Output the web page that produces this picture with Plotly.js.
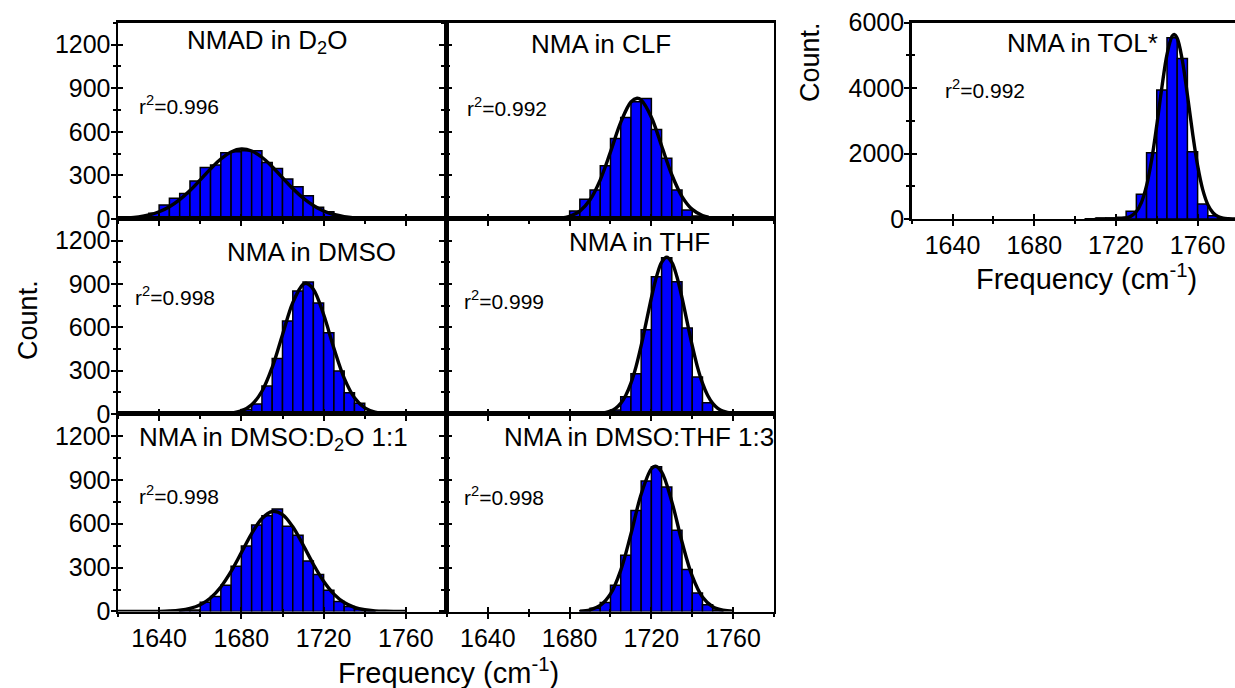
<!DOCTYPE html>
<html>
<head>
<meta charset="utf-8">
<script src="https://cdn.plot.ly/plotly-3.0.1.min.js"></script>
<style>
html,body{margin:0;padding:0;background:#fff;}
#chart{width:1235px;height:688px;}
</style>
</head>
<body>
<div id="chart"></div>
<script>
// ---------- data ----------
const panelTitles = ['NMAD in D<sub>2</sub>O', 'NMA in CLF', 'NMA in DMSO', 'NMA in THF',
                     'NMA in DMSO:D<sub>2</sub>O 1:1', 'NMA in DMSO:THF 1:3', 'NMA in TOL*'];
const r2Values = ['0.996', '0.992', '0.998', '0.999', '0.998', '0.998', '0.992'];

// histogram bins (left edge, cm-1) and counts
const binsNMAD = [1620,1625,1630,1635,1640,1645,1650,1655,1660,1665,1670,1675,1680,1685,1690,1695,1700,1705,1710,1715,1720,1725,1730,1735];
const countsNMAD = [5,10,16,39,96,142,176,261,355,372,456,462,469,469,389,348,275,222,160,80,50,23,10,5];

const binsCLF = [1670,1675,1680,1685,1690,1695,1700,1705,1710,1715,1720,1725,1730,1735,1740,1745];
const countsCLF = [5,16,55,135,199,366,554,698,806,829,616,417,199,62,20,5];

const binsDMSO = [1675,1680,1685,1690,1695,1700,1705,1710,1715,1720,1725,1730,1735,1740,1745];
const countsDMSO = [11,32,69,193,384,644,851,913,768,563,297,147,74,16,5];

const binsTHF = [1695,1700,1705,1710,1715,1720,1725,1730,1735,1740,1745,1750,1755];
const countsTHF = [5,27,119,279,584,950,1081,916,595,256,78,16,5];

const binsMixD2O = [1650,1655,1660,1665,1670,1675,1680,1685,1690,1695,1700,1705,1710,1715,1720,1725,1730,1735,1740];
const countsMixD2O = [5,11,64,103,179,310,448,591,655,701,582,522,345,253,145,69,34,16,5];

const binsMixTHF = [1685,1690,1695,1700,1705,1710,1715,1720,1725,1730,1735,1740,1745,1750];
const countsMixTHF = [5,23,62,179,384,690,892,989,851,556,287,126,46,11];

const binsTOL = [1705,1710,1715,1720,1725,1730,1735,1740,1745,1750,1755,1760,1765,1770];
const countsTOL = [10,20,30,50,234,754,2026,3941,5540,4908,2057,458,100,20];

// fitted curves, points
const fitXNMAD = [1620,1625,1630,1635,1640,1645,1650,1655,1660,1665,1670,1675,1680,1685,1690,1695,1700,1705,1710,1715,1720,1725,1730,1735,1740,1745,1750,1755,1760];
const fitYNMAD = [3.0,6.7,14.1,27.4,49.6,84.0,132.7,195.4,268.8,344.8,412.9,461.3,481,467.7,424.5,359.5,284.1,209.4,144.1,92.5,55.4,31.0,16.1,7.9,3.6,1.5,0.6,0.2,0.1];

const fitXCLF = [1660,1665,1670,1675,1680,1685,1690,1695,1700,1705,1710,1713,1715,1720,1725,1730,1735,1740,1745,1748];
const fitYCLF = [0,0.3,1.4,5.5,18.9,54.6,132.2,269.5,461.6,664.6,804.5,830,818.5,700.2,503.4,304.3,154.5,66.0,23.7,11.8];

const fitXDMSO = [1670,1675,1680,1685,1690,1695,1700,1705,1710,1711.5,1715,1720,1725,1730,1735,1740,1745,1750,1755,1760];
const fitYDMSO = [1.3,5.9,21.3,63.6,157.6,323.4,548.9,771.4,897.3,905,864.1,688.7,454.4,248.2,112.2,42.0,13.0,3.3,0.7,0.1];

const fitXTHF = [1690,1695,1700,1702.5,1705,1707.5,1710,1712.5,1715,1717.5,1720,1722.5,1725,1727.5,1730,1732.5,1735,1737.5,1740,1742.5,1745,1747.5,1750,1752.5,1755,1760,1765];
const fitYTHF = [0.6,4.0,19.5,39.2,73.7,129.5,213.2,328.2,473.0,637.8,804.6,950.0,1049.5,1085,1049.5,950.0,804.6,637.8,473.0,328.2,213.2,129.5,73.7,39.2,19.5,4.0,0.6];

const fitXMixD2O = [1620,1625,1630,1635,1640,1645,1650,1655,1660,1665,1670,1675,1680,1685,1690,1695,1700,1705,1710,1715,1720,1725,1730,1735,1740,1745,1750,1755,1760];
const fitYMixD2O = [0,0,0.1,0.3,1.0,3.1,8.4,20.7,46.2,92.7,167.8,273.6,402.1,532.5,635.5,683.6,662.6,578.8,455.5,323.2,206.6,119.0,61.8,28.9,12.2,4.6,1.6,0.5,0.1];

const fitXMixTHF = [1685,1690,1695,1700,1705,1710,1715,1720,1722,1725,1730,1735,1740,1745,1750,1755,1760];
const fitYMixTHF = [2.5,11.3,41.2,119.9,281.1,529.5,801.8,975.8,993,954.7,750.9,474.8,241.3,98.6,32.4,8.5,1.8];

const fitXTOL = [1710,1712.5,1715,1717.5,1720,1722.5,1725,1727.5,1730,1732.5,1735,1737.5,1740,1742.5,1745,1747.5,1748.5,1750,1752.5,1755,1757.5,1760,1762.5,1765,1767.5,1770,1772.5,1775,1777.5,1780];
const fitYTOL = [0,0,0.2,0.7,2.8,9.9,31.7,90.0,227.3,510.6,1020.3,1812.2,2863.4,4023.0,5027.5,5587.5,5640,5522.2,4853.8,3794.0,2637.8,1630.5,896.8,438.8,190.6,73.8,25.4,7.8,2.1,0.5];

const xTickLabels = ['1640','1680','1720','1760'];
const xTickVals = [1640,1680,1720,1760];

// ---------- figure ----------
const FONT = 'Liberation Sans, Arial, Helvetica, sans-serif';
const BLACK = '#000000';
const BLUE = '#0000ff';

const panels = [
  {bins: binsNMAD,   counts: countsNMAD,   fx: fitXNMAD,   fy: fitYNMAD},
  {bins: binsCLF,    counts: countsCLF,    fx: fitXCLF,    fy: fitYCLF},
  {bins: binsDMSO,   counts: countsDMSO,   fx: fitXDMSO,   fy: fitYDMSO},
  {bins: binsTHF,    counts: countsTHF,    fx: fitXTHF,    fy: fitYTHF},
  {bins: binsMixD2O, counts: countsMixD2O, fx: fitXMixD2O, fy: fitYMixD2O},
  {bins: binsMixTHF, counts: countsMixTHF, fx: fitXMixTHF, fy: fitYMixTHF},
  {bins: binsTOL,    counts: countsTOL,    fx: fitXTOL,    fy: fitYTOL}
];

// layout geometry (paper fractions)
const colDom = [[0.09555, 0.36194], [0.36194, 0.62672], [0.7382, 1.0]];
const rowDom = [[0.68169, 0.96701], [0.39826, 0.68169], [0.11119, 0.39826]];
const geo = [
  {col:0,row:0},{col:1,row:0},
  {col:0,row:1},{col:1,row:1},
  {col:0,row:2},{col:1,row:2},
  {col:2,row:0}
];
const titlePos = [[0.453,0.903],[0.470,0.89],[0.589,0.832],[0.588,0.884],[0.473,0.877],[0.588,0.885],[0.528,0.895]];
const r2Pos = [[0.059,0.581],[0.055,0.572],[0.0466,0.605],[0.045,0.585],[0.059,0.59],[0.045,0.585],[0.096,0.661]];

const traces = [];
const layout = {
  width: 1235, height: 688,
  margin: {l:0, r:0, t:0, b:0, pad:0},
  paper_bgcolor: '#ffffff', plot_bgcolor: 'rgba(0,0,0,0)',
  showlegend: false, hovermode: false,
  font: {family: FONT, color: BLACK},
  annotations: []
};

const N = panels.length;
panels.forEach((p, k) => {
  const i = k + 1;
  const o = i + N;
  const g = geo[k];
  const isTOL = (g.col === 2);
  const xr = isTOL ? [1620, 1778.3] : [1620, 1780];
  const yr = isTOL ? [0, 6000] : [0, 1350];
  const ydt = isTOL ? 2000 : 300;
  const ymin = isTOL ? 1000 : 150;
  const showX = isTOL || g.row === 2;
  const showY = isTOL || g.col === 0;
  const xs = i === 1 ? '' : String(i);

  traces.push({
    type: 'bar', x: p.bins, y: p.counts, width: 5, offset: 0,
    marker: {color: BLUE, line: {color: BLACK, width: 1.5}},
    xaxis: 'x' + xs, yaxis: 'y' + xs, hoverinfo: 'skip'
  });
  traces.push({
    type: 'scatter', mode: 'lines', x: p.fx, y: p.fy,
    line: {color: BLACK, width: 3.4, shape: 'spline', smoothing: 1},
    xaxis: 'x' + xs, yaxis: 'y' + xs, hoverinfo: 'skip'
  });
  // invisible trace to realise the overlay axes (inner half of the crossing ticks)
  traces.push({
    type: 'scatter', mode: 'markers', x: [1700], y: [0], marker: {opacity: 0},
    xaxis: 'x' + o, yaxis: 'y' + o, hoverinfo: 'skip'
  });

  const common = {showgrid: false, zeroline: false, fixedrange: true, tickcolor: BLACK, tickwidth: 2};

  layout['xaxis' + xs] = Object.assign({}, common, {
    domain: colDom[g.col], range: xr, anchor: 'y' + xs,
    showline: true, linecolor: BLACK, linewidth: 2.5, mirror: true,
    ticks: 'outside', ticklen: 5,
    tickmode: 'array', tickvals: xTickVals, ticktext: xTickLabels,
    minor: {ticks: 'outside', ticklen: 3, tickwidth: 2, tickcolor: BLACK, tickmode: 'linear', tick0: 1620, dtick: 20},
    showticklabels: showX, ticklabelstandoff: -2,
    tickfont: {family: FONT, size: 25, color: BLACK}
  });
  layout['yaxis' + xs] = Object.assign({}, common, {
    domain: rowDom[g.row], range: yr, anchor: 'x' + xs,
    showline: true, linecolor: BLACK, linewidth: 2.5, mirror: !isTOL,
    ticks: 'outside', ticklen: 5, tickmode: 'linear', tick0: 0, dtick: ydt,
    minor: {ticks: 'outside', ticklen: 3, tickwidth: 2, tickcolor: BLACK, dtick: ymin},
    showticklabels: showY, ticklabelstandoff: -5,
    tickfont: {family: FONT, size: 25, color: BLACK}
  });
  layout['xaxis' + o] = Object.assign({}, common, {
    overlaying: 'x' + xs, anchor: 'y' + o, range: xr,
    showline: false, ticks: 'inside', ticklen: 5,
    tickmode: 'array', tickvals: xTickVals,
    minor: {ticks: 'inside', ticklen: 3, tickwidth: 2, tickcolor: BLACK, tickmode: 'linear', tick0: 1620, dtick: 20},
    showticklabels: false
  });
  layout['yaxis' + o] = Object.assign({}, common, {
    overlaying: 'y' + xs, anchor: 'x' + o, range: yr,
    showline: false, ticks: 'inside', ticklen: 5, tickmode: 'linear', tick0: 0, dtick: ydt,
    minor: {ticks: 'inside', ticklen: 3, tickwidth: 2, tickcolor: BLACK, dtick: ymin},
    showticklabels: false
  });

  layout.annotations.push({
    xref: 'x' + xs + ' domain', yref: 'y' + xs + ' domain',
    x: titlePos[k][0], y: titlePos[k][1], xanchor: 'center', yanchor: 'middle',
    text: panelTitles[k], showarrow: false,
    font: {family: FONT, size: 26, color: BLACK}
  });
  layout.annotations.push({
    xref: 'x' + xs + ' domain', yref: 'y' + xs + ' domain',
    x: r2Pos[k][0], y: r2Pos[k][1], xanchor: 'left', yanchor: 'middle',
    text: 'r<sup>2</sup>=' + r2Values[k], showarrow: false,
    font: {family: FONT, size: 21, color: BLACK}
  });
});

// axis titles
layout.annotations.push({
  xref: 'paper', yref: 'paper', x: 0.02267, y: 0.535, xanchor: 'center', yanchor: 'middle',
  text: 'Count.', textangle: -90, showarrow: false, font: {family: FONT, size: 27, color: BLACK}
});
layout.annotations.push({
  xref: 'paper', yref: 'paper', x: 0.3632, y: 0.024, xanchor: 'center', yanchor: 'middle',
  text: 'Frequency (cm<sup>-1</sup>)', showarrow: false, font: {family: FONT, size: 29, color: BLACK}
});
layout.annotations.push({
  xref: 'paper', yref: 'paper', x: 0.880, y: 0.597, xanchor: 'center', yanchor: 'middle',
  text: 'Frequency (cm<sup>-1</sup>)', showarrow: false, font: {family: FONT, size: 29, color: BLACK}
});
layout.annotations.push({
  xref: 'paper', yref: 'paper', x: 0.6559, y: 0.91, xanchor: 'center', yanchor: 'middle',
  text: 'Count.', textangle: -90, showarrow: false, font: {family: FONT, size: 27, color: BLACK}
});

Plotly.newPlot('chart', traces, layout, {staticPlot: true, displayModeBar: false});
</script>
</body>
</html>
